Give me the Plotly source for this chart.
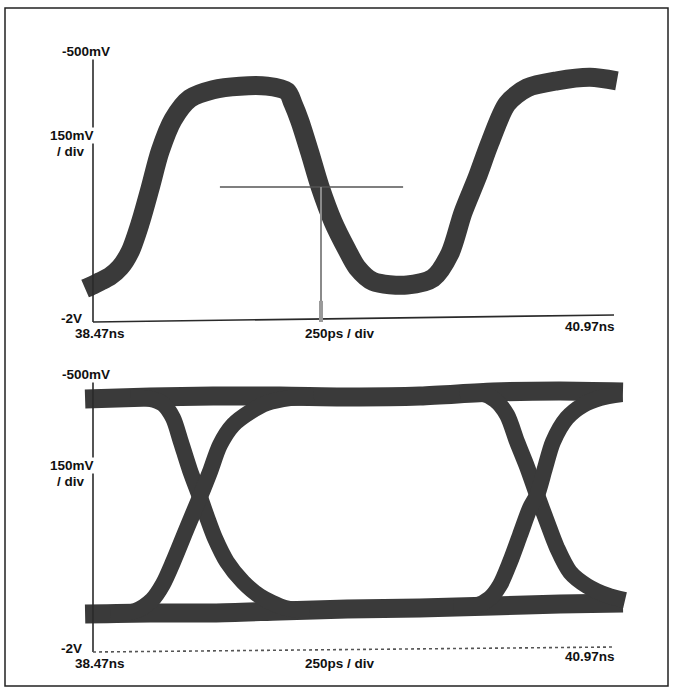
import plotly.graph_objects as go

# ---------------- data (time in ns, level in V) ----------------
t_start, t_end = 38.47, 40.97
v_top, v_bottom = -0.5, -2.0

# upper panel: single acquisition
wave_time_ns = [38.432, 38.470, 38.504, 38.552, 38.600, 38.648, 38.696, 38.744, 38.792, 38.854,
                38.935, 39.046, 39.175, 39.305, 39.401, 39.430, 39.463, 39.511, 39.559, 39.622,
                39.689, 39.737, 39.814, 39.977, 40.102, 40.183, 40.245, 40.313, 40.375, 40.457,
                40.553, 40.697, 40.855, 40.984]
wave_volts = [-1.81, -1.79, -1.77, -1.74, -1.69, -1.60, -1.44, -1.24, -1.03, -0.85,
              -0.73, -0.68, -0.66, -0.66, -0.69, -0.76, -0.86, -1.04, -1.23, -1.43,
              -1.59, -1.69, -1.77, -1.79, -1.75, -1.61, -1.38, -1.18, -0.98, -0.76,
              -0.67, -0.63, -0.61, -0.63]

cursor_time_ns = 39.564
cursor_level_v = -1.233
cursor_span_ns = (39.079, 39.958)

# lower panel: eye diagram
rail_time_ns = [38.432, 38.744, 39.046, 39.367, 39.689, 40.039, 40.389, 40.711, 41.013]
rail_high_v = [-0.594, -0.583, -0.578, -0.578, -0.583, -0.578, -0.556, -0.550, -0.556]
rail_low_v = [-1.789, -1.783, -1.783, -1.772, -1.761, -1.756, -1.744, -1.733, -1.728]

fall1_time_ns = [38.648, 38.744, 38.806, 38.854, 38.892, 38.935, 38.983, 39.022, 39.055, 39.113,
                 39.190, 39.271, 39.391, 39.511]
fall1_v = [-0.585, -0.594, -0.622, -0.700, -0.833, -0.989, -1.139, -1.267, -1.367, -1.500,
           -1.611, -1.690, -1.755, -1.770]

rise1_time_ns = [38.552, 38.672, 38.753, 38.806, 38.854, 38.921, 38.983, 39.031, 39.079, 39.142,
                 39.223, 39.305, 39.415, 39.530]
rise1_v = [-1.785, -1.772, -1.711, -1.622, -1.500, -1.311, -1.139, -1.000, -0.850, -0.739,
           -0.667, -0.617, -0.589, -0.580]

fall2_time_ns = [40.230, 40.327, 40.399, 40.457, 40.505, 40.553, 40.601, 40.649, 40.697, 40.759,
                 40.841, 40.937, 41.023]
fall2_v = [-0.562, -0.561, -0.600, -0.683, -0.833, -0.972, -1.128, -1.278, -1.422, -1.556,
           -1.633, -1.685, -1.712]

rise2_time_ns = [40.200, 40.303, 40.375, 40.423, 40.471, 40.519, 40.567, 40.601, 40.639, 40.677,
                 40.744, 40.821, 40.903, 41.008]
rise2_v = [-1.745, -1.744, -1.700, -1.628, -1.500, -1.350, -1.200, -1.128, -0.978, -0.833,
           -0.700, -0.628, -0.589, -0.567]

# ---------------- layout geometry (pixels) ----------------
W, H = 674, 691
X_PX = (93, 614)                      # pixel columns of t_start / t_end
TOP_V_PX, TOP_DOM_PX = (58, 322), (15, 345)
BOT_V_PX, BOT_DOM_PX = (382, 652), (350, 686)
TOP_BASE_TILT_PX, BOT_BASE_TILT_PX = 7, 5   # scanned baseline rises toward the right

tscale = (t_end - t_start) / (X_PX[1] - X_PX[0])
x_range = [t_start - X_PX[0] * tscale, t_start + (W - X_PX[0]) * tscale]


def y_setup(v_px, dom_px):
    vs = (v_top - v_bottom) / (v_px[1] - v_px[0])
    lo = v_bottom - (dom_px[1] - v_px[1]) * vs
    hi = v_top + (v_px[0] - dom_px[0]) * vs
    return [lo, hi], [1 - dom_px[1] / H, 1 - dom_px[0] / H], vs


top_range, top_dom, top_vs = y_setup(TOP_V_PX, TOP_DOM_PX)
bot_range, bot_dom, bot_vs = y_setup(BOT_V_PX, BOT_DOM_PX)

BAND = "#3a3a3a"
INK = "#111111"

fig = go.Figure()


def band(x, y, xa, ya, width):
    fig.add_trace(go.Scatter(x=x, y=y, xaxis=xa, yaxis=ya, mode="lines",
                             line=dict(color=BAND, width=width, shape="spline", smoothing=0.8),
                             hoverinfo="skip", showlegend=False))


band(wave_time_ns, wave_volts, "x", "y", 19)
band(rail_time_ns, rail_high_v, "x2", "y2", 19)
band(rail_time_ns, rail_low_v, "x2", "y2", 19)
band(fall1_time_ns, fall1_v, "x2", "y2", 16)
band(rise1_time_ns, rise1_v, "x2", "y2", 16)
band(fall2_time_ns, fall2_v, "x2", "y2", 16)
band(rise2_time_ns, rise2_v, "x2", "y2", 16)

shapes = []
# axes of both panels
for xr, yr, dash, col, tilt in (("x", "y", "solid", "#2a2a2a", TOP_BASE_TILT_PX * top_vs),
                                ("x2", "y2", "dot", "#555555", BOT_BASE_TILT_PX * bot_vs)):
    shapes.append(dict(type="line", xref=xr, yref=yr, x0=t_start, x1=t_start, y0=v_bottom, y1=v_top,
                       line=dict(color="#2a2a2a", width=1.6)))
    shapes.append(dict(type="line", xref=xr, yref=yr, x0=t_start, x1=t_end, y0=v_bottom,
                       y1=v_bottom + tilt, line=dict(color=col, width=1.6, dash=dash)))
# cursors in upper panel
shapes.append(dict(type="line", xref="x", yref="y", x0=cursor_span_ns[0], x1=cursor_span_ns[1],
                   y0=cursor_level_v, y1=cursor_level_v, line=dict(color="#555555", width=1.3)))
shapes.append(dict(type="line", xref="x", yref="y", x0=cursor_time_ns, x1=cursor_time_ns,
                   y0=cursor_level_v, y1=v_bottom, line=dict(color="#8a8a8a", width=2)))
shapes.append(dict(type="line", xref="x", yref="y", x0=cursor_time_ns, x1=cursor_time_ns,
                   y0=v_bottom + 0.12, y1=v_bottom, line=dict(color="#9a9a9a", width=4)))
# outer frame
shapes.append(dict(type="rect", xref="paper", yref="paper", x0=5 / W, x1=668 / W,
                   y0=1 - 686 / H, y1=1 - 8 / H, line=dict(color="#222222", width=1.5)))


def label(text, px, py, anchor="center", bg=None):
    a = dict(text=text, x=px / W, y=1 - py / H, xref="paper", yref="paper", showarrow=False,
             xanchor=anchor, yanchor="middle",
             font=dict(family="Liberation Sans, Arial, sans-serif", size=13.5, color=INK))
    if bg:
        a["bgcolor"] = bg
        a["borderpad"] = 0
    return a


annotations = []
for dy in (0, 330):
    annotations += [
        label("<b>-500mV</b>", 86, 52 + dy + (-8 if dy else 0), bg="white"),
        label("<b>150mV</b>", 95, 135 + dy, anchor="right", bg="white"),
        label("<b>/ div</b>", 86, 151 + dy, anchor="right"),
        label("<b>-2V</b>", 71, 318 + dy),
        label("<b>38.47ns</b>", 100, 333 + dy),
        label("<b>250ps / div</b>", 340, 333 + dy),
        label("<b>40.97ns</b>", 590, 326 + dy),
    ]

ax_common = dict(visible=False, showgrid=False, zeroline=False, fixedrange=True)
fig.update_layout(
    width=W, height=H, margin=dict(l=0, r=0, t=0, b=0),
    paper_bgcolor="white", plot_bgcolor="white",
    xaxis=dict(range=x_range, domain=[0, 1], anchor="y", **ax_common),
    yaxis=dict(range=top_range, domain=top_dom, anchor="x", **ax_common),
    xaxis2=dict(range=x_range, domain=[0, 1], anchor="y2", **ax_common),
    yaxis2=dict(range=bot_range, domain=bot_dom, anchor="x2", **ax_common),
    shapes=shapes, annotations=annotations, showlegend=False,
)

fig.write_html("out.html", config={"staticPlot": True},
               post_script="document.body.style.margin='0';document.body.style.overflow='hidden';")
